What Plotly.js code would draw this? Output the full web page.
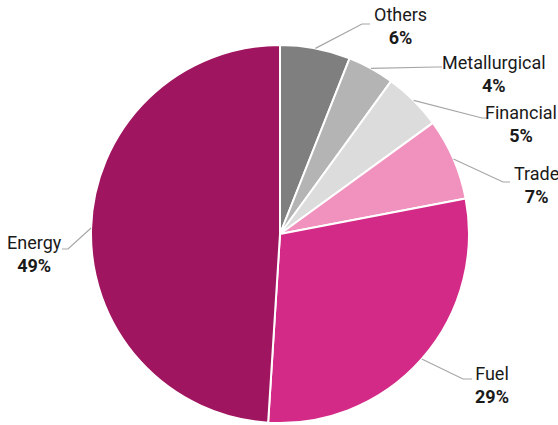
<!DOCTYPE html>
<html>
<head>
<meta charset="utf-8">
<script src="https://cdn.plot.ly/plotly-3.0.1.min.js"></script>
<style>html,body{margin:0;padding:0;background:#fff;}#chart{width:558px;height:425px;}</style>
</head>
<body>
<div id="chart"></div>
<script>
// Data (clockwise from 12 o'clock)
const labels = ['Others', 'Metallurgical', 'Financial', 'Trade', 'Fuel', 'Energy'];
const values = [6, 4, 5, 7, 29, 49];
const colors = ['#7f7f7f', '#b4b4b4', '#dcdcdc', '#f191be', '#d42a87', '#a0155f'];

// Layout geometry (pixels)
const W = 558, H = 425;
const M = {l: 91, r: 89, t: 45, b: 2};
const PW = W - M.l - M.r, PH = H - M.t - M.b;
const R = Math.min(PW, PH) / 2;
const CX = M.l + PW / 2, CY = M.t + PH / 2;

// Label text centres and leader-line elbow / end points (pixels)
const textPos = [[400, 26], [494, 74], [521, 124], [536, 185], [492, 385], [34, 254]];
const elbows = [[362, 24], [436, 67], [482, 118], [503, 182], [463, 379], [68, 249]];
const ends = [[370, 24], [442, 67], [488, 118], [510, 182], [472, 379], [62, 249]];

const px2x = p => (p - M.l) / PW;
const py2y = p => (H - M.b - p) / PH;

const total = values.reduce((a, b) => a + b, 0);
let cum = 0;
const annotations = [], shapes = [];
const font = 'Roboto, Liberation Sans, sans-serif';
values.forEach((v, i) => {
  const th = 2 * Math.PI * (cum + v / 2) / total;
  cum += v;
  const ax = CX + R * Math.sin(th), ay = CY - R * Math.cos(th);
  shapes.push({
    type: 'path', xref: 'paper', yref: 'paper',
    path: `M ${px2x(ax)} ${py2y(ay)} L ${px2x(elbows[i][0])} ${py2y(elbows[i][1])} L ${px2x(ends[i][0])} ${py2y(ends[i][1])}`,
    line: {color: '#a6a6a6', width: 1.2}
  });
  annotations.push({
    xref: 'paper', yref: 'paper', x: px2x(textPos[i][0]), y: py2y(textPos[i][1]),
    xanchor: 'center', yanchor: 'middle', showarrow: false, align: 'center',
    text: labels[i] + '<br><b>' + Math.round(v / total * 100) + '%</b>',
    font: {family: font, size: 18, color: '#1a1a1a'}
  });
});

const data = [{
  type: 'pie',
  labels: labels,
  values: values,
  sort: false,
  direction: 'clockwise',
  rotation: 0,
  textinfo: 'none',
  hoverinfo: 'label+percent',
  marker: {colors: colors, line: {color: '#ffffff', width: 2}},
  showlegend: false
}];

const layout = {
  width: W, height: H,
  margin: M,
  paper_bgcolor: '#ffffff',
  plot_bgcolor: '#ffffff',
  showlegend: false,
  annotations: annotations,
  shapes: shapes
};

Plotly.newPlot('chart', data, layout, {displayModeBar: false, staticPlot: true});
</script>
</body>
</html>
